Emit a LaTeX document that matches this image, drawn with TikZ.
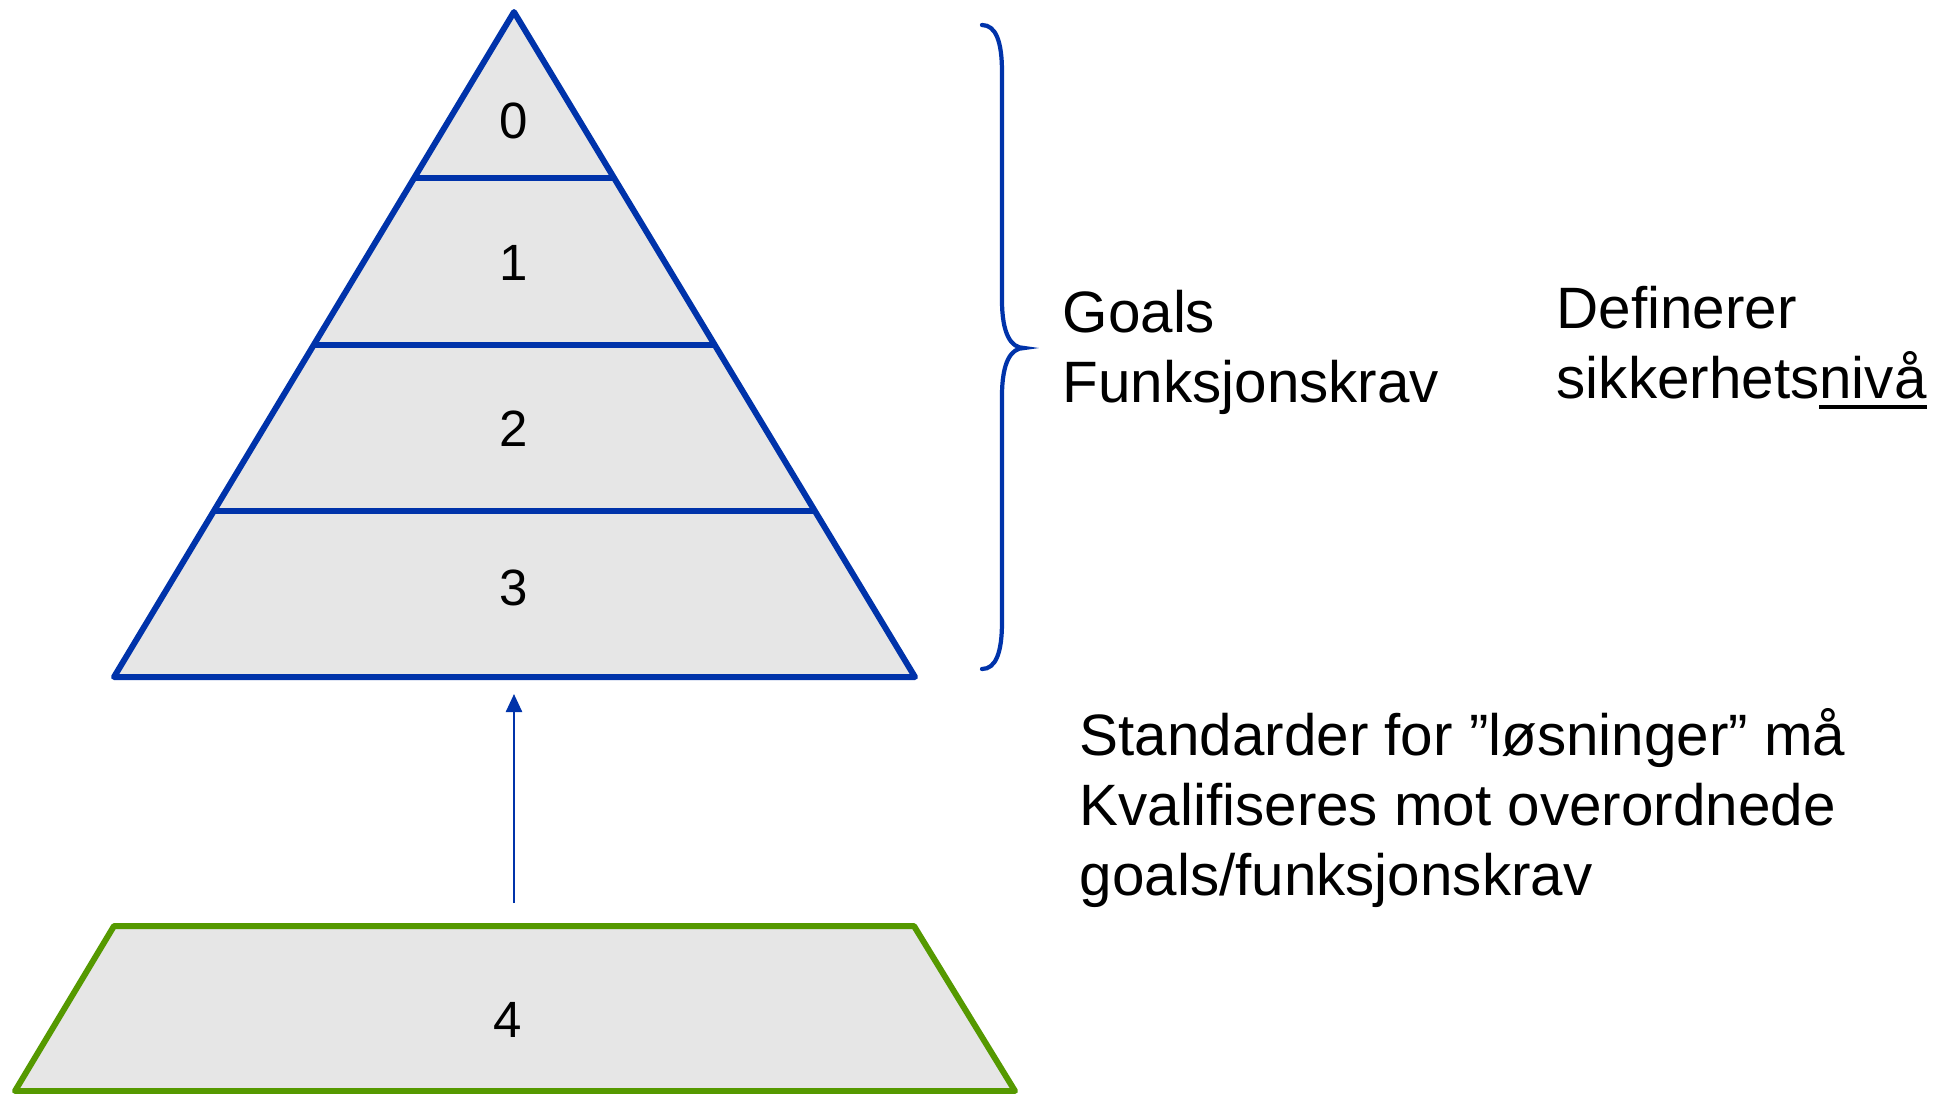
\documentclass[tikz,border=0pt]{standalone}
\usepackage{fontspec}
\setmainfont{Liberation Sans}
\usetikzlibrary{arrows.meta,positioning,calc}
\definecolor{pyrblue}{HTML}{0033AA}
\definecolor{pyrgreen}{HTML}{559900}
\definecolor{pyrfill}{HTML}{E6E6E6}
\newcommand{\ulword}[1]{\setbox0\hbox{#1}\rlap{\rule[-3pt]{\wd0}{1.1pt}}\box0}

\begin{document}
\begin{tikzpicture}[x=0.01cm,y=-0.01cm,
  layer/.style={draw=pyrblue,line width=1.7pt,line join=round,fill=pyrfill},
  base/.style={draw=pyrgreen,line width=1.7pt,line join=round,fill=pyrfill},
  num/.style={font=\fontsize{14.5}{17}\selectfont,inner sep=0pt},
  txt/.style={font=\fontsize{16.6}{19.9}\selectfont,align=left,anchor=base west,inner sep=0pt}]

  \useasboundingbox (0,0) rectangle (1944,1093);

  \coordinate (apex) at (514,12);
  \coordinate (bl) at (114,677);
  \coordinate (br) at (915,677);

  % pyramid with levels 0-3
  \path[layer] (apex) -- (br) -- (bl) -- cycle;
  \foreach \t in {0.25,0.5,0.75}
    \draw[pyrblue,line width=1.7pt] ($(apex)!\t!(bl)$) -- ($(apex)!\t!(br)$);

  \node[num] (l0) at (514,121) {0};
  \node[num] (l1) at (514,263) {1};
  \node[num] (l2) at (514,429) {2};
  \node[num] (l3) at (514,588) {3};

  % level 4
  \path[base] (114,926) -- (914,926) -- (1015,1091) -- (15,1091) -- cycle;
  \node[num] (l4) at (508,1020) {4};

  \coordinate (arrfrom) at (514,903);
  \coordinate (arrto) at (514,694);
  \draw[pyrblue,line width=0.7pt,-{Triangle[length=0.18cm,width=0.16cm]}] (arrfrom) -- (arrto);

  % brace
  \draw[pyrblue,line width=1.2pt,line cap=round]
    (982,25) .. controls (996,25) and (1002,42) .. (1002,72) -- (1002,300)
    .. controls (1002,334) and (1011,348) .. (1024,348)
    .. controls (1011,348) and (1002,362) .. (1002,396) -- (1002,622)
    .. controls (1002,652) and (996,669) .. (982,669);

  \node[txt] (goals) at (1062,402) {Goals\\Funksjonskrav};
  \node[txt] (def) at (1556,398) {Definerer\\sikkerhets\ulword{nivå}};
  \node[txt] (std) at (1079,895) {Standarder for ”løsninger” må\\Kvalifiseres mot overordnede\\goals/funksjonskrav};

\end{tikzpicture}
\end{document}
